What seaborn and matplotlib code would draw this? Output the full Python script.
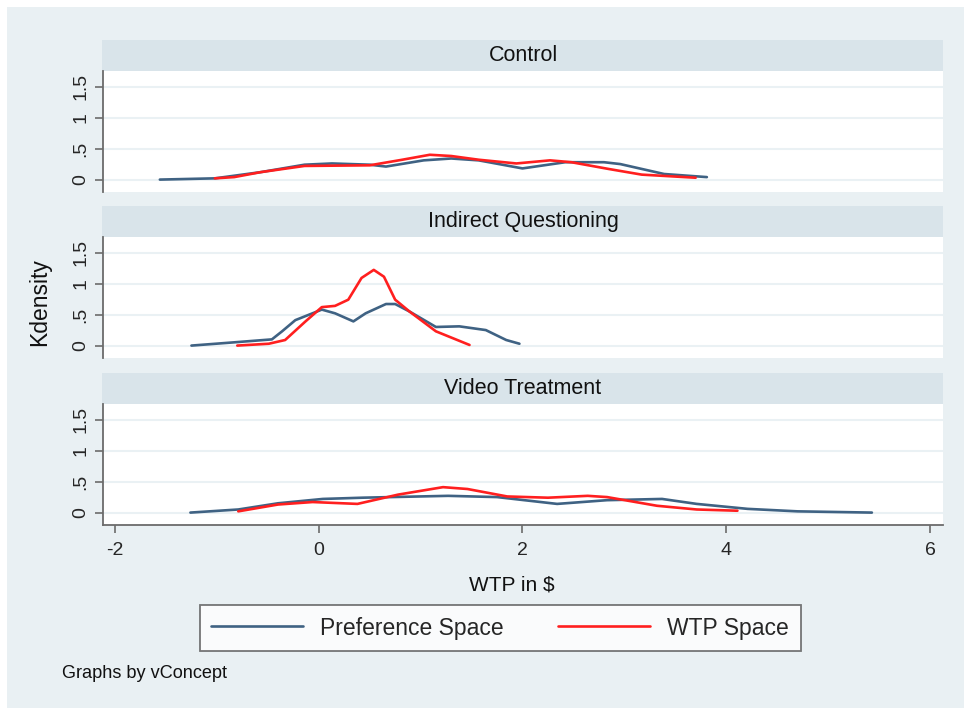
import numpy as np
import pandas as pd
import matplotlib
matplotlib.use("Agg")
import matplotlib.pyplot as plt
from matplotlib.patches import Rectangle
from matplotlib.lines import Line2D
import seaborn as sns

# ---------------- data ----------------
panels = ["Control", "Indirect Questioning", "Video Treatment"]
series = ["Preference Space", "WTP Space"]

ctrl_pref_x = [-1.56, -1.02, -0.57, -0.14, 0.13, 0.50, 0.66, 1.03, 1.30, 1.57, 2.00, 2.42, 2.80, 2.96, 3.39, 3.81]
ctrl_pref_y = [0.00, 0.02, 0.12, 0.24, 0.26, 0.24, 0.21, 0.31, 0.34, 0.31, 0.18, 0.28, 0.28, 0.25, 0.09, 0.04]
ctrl_wtp_x = [-1.02, -0.83, -0.57, -0.14, 0.50, 0.82, 1.09, 1.30, 1.57, 1.94, 2.27, 2.48, 2.85, 3.17, 3.70]
ctrl_wtp_y = [0.02, 0.04, 0.12, 0.22, 0.23, 0.32, 0.40, 0.38, 0.32, 0.26, 0.31, 0.28, 0.17, 0.08, 0.03]

ind_pref_x = [-1.25, -0.85, -0.46, -0.36, -0.23, 0.03, 0.16, 0.34, 0.46, 0.66, 0.75, 0.89, 1.15, 1.38, 1.64, 1.84, 1.97]
ind_pref_y = [0.00, 0.05, 0.10, 0.23, 0.41, 0.58, 0.52, 0.39, 0.52, 0.67, 0.67, 0.55, 0.30, 0.31, 0.25, 0.09, 0.03]
ind_wtp_x = [-0.80, -0.49, -0.33, -0.13, 0.03, 0.16, 0.29, 0.42, 0.54, 0.64, 0.75, 0.89, 1.15, 1.48]
ind_wtp_y = [0.00, 0.03, 0.09, 0.39, 0.62, 0.64, 0.74, 1.09, 1.22, 1.11, 0.74, 0.55, 0.23, 0.01]

vid_pref_x = [-1.26, -0.79, -0.40, 0.04, 0.43, 1.27, 1.75, 2.34, 2.83, 3.37, 3.71, 4.21, 4.70, 5.43]
vid_pref_y = [0.00, 0.05, 0.15, 0.22, 0.24, 0.27, 0.25, 0.14, 0.20, 0.22, 0.14, 0.06, 0.02, 0.00]
vid_wtp_x = [-0.79, -0.40, -0.06, 0.38, 0.78, 1.22, 1.46, 1.85, 2.25, 2.64, 2.83, 3.32, 3.71, 4.11]
vid_wtp_y = [0.02, 0.13, 0.17, 0.14, 0.29, 0.41, 0.38, 0.26, 0.24, 0.27, 0.25, 0.11, 0.05, 0.03]

x_ticks = [-2, 0, 2, 4, 6]
y_ticks = [0, 0.5, 1, 1.5]
y_ticklabels = ["0", ".5", "1", "1.5"]

# ---------------- long-form table ----------------
rows = []
raw = {
    ("Control", "Preference Space"): (ctrl_pref_x, ctrl_pref_y),
    ("Control", "WTP Space"): (ctrl_wtp_x, ctrl_wtp_y),
    ("Indirect Questioning", "Preference Space"): (ind_pref_x, ind_pref_y),
    ("Indirect Questioning", "WTP Space"): (ind_wtp_x, ind_wtp_y),
    ("Video Treatment", "Preference Space"): (vid_pref_x, vid_pref_y),
    ("Video Treatment", "WTP Space"): (vid_wtp_x, vid_wtp_y),
}
for (p, s), (xs, ys) in raw.items():
    for xv, yv in zip(xs, ys):
        rows.append({"panel": p, "series": s, "wtp": xv, "dens": yv})
df = pd.DataFrame(rows)

# ---------------- style ----------------
sns.set_theme(style="white")
plt.rcParams["font.family"] = ["Liberation Sans", "DejaVu Sans"]

BG = "#e9f0f3"
STRIP = "#d9e4ea"
GRID = "#eaf1f4"
AXC = "#6b6b6b"
palette = {"Preference Space": "#3f6283", "WTP Space": "#ff1f1f"}

W, H = 964, 708
fig = plt.figure(figsize=(W / 100, H / 100), dpi=100, facecolor=BG)
# white screenshot margins at top and left
fig.patches.append(Rectangle((0, 1 - 7 / H), 1, 7 / H, transform=fig.transFigure,
                             facecolor="white", edgecolor="none", zorder=-1))
fig.patches.append(Rectangle((0, 0), 7 / W, 1, transform=fig.transFigure,
                             facecolor="white", edgecolor="none", zorder=-1))

left_px, right_px = 103, 943
tops = [71, 237, 404]
ph = 121
strip_h = 31

for i, p in enumerate(panels):
    top = tops[i]
    ax = fig.add_axes([left_px / W, 1 - (top + ph) / H, (right_px - left_px) / W, ph / H])
    ax.set_facecolor("white")
    sub = df[df["panel"] == p]
    sns.lineplot(data=sub, x="wtp", y="dens", hue="series", hue_order=series,
                 palette=palette, linewidth=1.9, ax=ax, legend=False, sort=False,
                 estimator=None)
    ax.set_xlim(-2.118, 6.128)
    ax.set_ylim(-0.2, 1.75)
    ax.set_yticks(y_ticks)
    ax.set_yticklabels(y_ticklabels, rotation=90, va="center", fontsize=14)
    ax.set_xticks(x_ticks)
    for yv in y_ticks:
        ax.axhline(yv, color=GRID, lw=1.5, zorder=0)
    for sp in ["top", "right"]:
        ax.spines[sp].set_visible(False)
    ax.spines["left"].set_color(AXC)
    ax.spines["left"].set_linewidth(1.3)
    if i < 2:
        ax.spines["bottom"].set_visible(False)
        ax.tick_params(axis="x", bottom=False, labelbottom=False)
    else:
        ax.spines["bottom"].set_color(AXC)
        ax.spines["bottom"].set_linewidth(1.3)
        ax.set_xticklabels([str(t) for t in x_ticks], fontsize=14)
        ax.tick_params(axis="x", bottom=True, length=6, width=1.2, color=AXC, pad=6)
    ax.tick_params(axis="y", left=True, length=6, width=1.2, color=AXC, pad=4)
    ax.set_xlabel("")
    ax.set_ylabel("")
    # strip header
    ax.add_patch(Rectangle((-1 / (right_px - left_px), 1), 1 + 1 / (right_px - left_px),
                           strip_h / ph, transform=ax.transAxes, clip_on=False,
                           facecolor=STRIP, edgecolor="none"))
    ax.text(0.5, 1 + (strip_h / 2) / ph, p, transform=ax.transAxes, ha="center",
            va="center", fontsize=15.5, color="#111111")

fig.text(40 / W, 1 - 302 / H, "Kdensity", rotation=90, ha="center", va="center",
         fontsize=16.5, color="#111111")
fig.text(512 / W, 1 - 585 / H, "WTP in $", ha="center", va="center",
         fontsize=15, color="#111111")
fig.text(62 / W, 1 - 674 / H, "Graphs by vConcept", ha="left", va="center",
         fontsize=13.1, color="#111111")

handles = [Line2D([], [], color=palette[s], lw=1.9) for s in series]
leg = fig.legend(handles, series, loc="center", ncol=2,
                 bbox_to_anchor=(500 / W, 1 - 628 / H), frameon=True, fancybox=False,
                 fontsize=16.5, handlelength=4.0, handletextpad=0.75, columnspacing=2.4,
                 borderpad=0.5, borderaxespad=0)
leg.get_frame().set_edgecolor("#555555")
leg.get_frame().set_linewidth(1.3)
leg.get_frame().set_facecolor("white")

fig.savefig("out.png", dpi=100, facecolor=BG)
